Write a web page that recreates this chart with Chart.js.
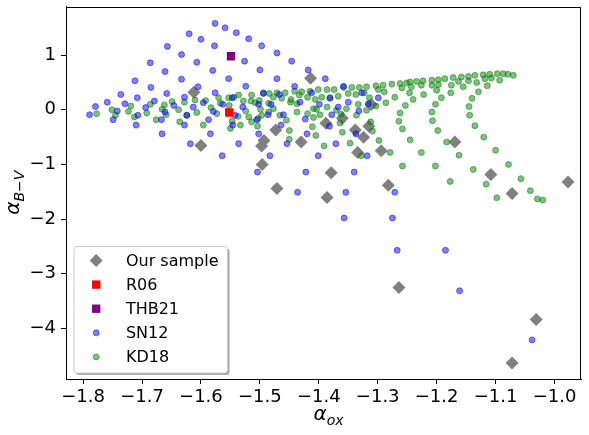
<!DOCTYPE html>
<html>
<head>
<meta charset="utf-8">
<title>alpha_ox vs alpha_B-V</title>
<script src="https://cdn.jsdelivr.net/npm/chart.js"></script>
<style>
  body { margin: 0; background: #fff; }
  #wrap { width: 589px; height: 435px; }
</style>
</head>
<body>
<div id="wrap"><canvas id="chart" width="589" height="435"></canvas></div>
<script>
const xTicks = [-1.8, -1.7, -1.6, -1.5, -1.4, -1.3, -1.2, -1.1, -1.0];
const yTicks = [-4, -3, -2, -1, 0, 1];

// [alpha_ox, alpha_B-V]
const ourSample = [
  [-1.612, 0.32], [-1.600, -0.655], [-1.414, 0.576], [-1.311, 0.095], [-1.360, -0.155],
  [-1.388, -0.245], [-1.338, -0.37], [-1.324, -0.50], [-1.315, -0.30], [-1.294, -0.75],
  [-1.334, -0.78], [-1.379, -1.15], [-1.386, -1.605], [-1.471, -1.44], [-1.496, -1.00],
  [-1.497, -0.66], [-1.493, -0.56], [-1.473, -0.37], [-1.430, -0.59], [-1.282, -1.38],
  [-1.169, -0.59], [-1.108, -1.185], [-1.072, -1.53], [-0.977, -1.32], [-1.264, -3.25],
  [-1.031, -3.836], [-1.072, -4.63]
];
const r06 = [[-1.552, -0.05]];
const thb21 = [[-1.549, 0.98]];
const sn12 = [
  [-1.576, 1.58], [-1.559, 1.50], [-1.540, 1.41], [-1.519, 1.30], [-1.497, 1.17], [-1.471, 1.04],
  [-1.446, 0.89], [-1.418, 0.73], [-1.389, 0.57],
  [-1.620, 1.39], [-1.600, 1.29], [-1.577, 1.17], [-1.526, 0.89], [-1.500, 0.73], [-1.471, 0.57],
  [-1.441, 0.43], [-1.412, 0.31],
  [-1.657, 1.16], [-1.633, 1.01], [-1.607, 0.87], [-1.580, 0.72], [-1.553, 0.57], [-1.524, 0.43], [-1.494, 0.30],
  [-1.686, 0.86], [-1.661, 0.70], [-1.633, 0.56], [-1.605, 0.42], [-1.576, 0.31], [-1.547, 0.22],
  [-1.712, 0.53], [-1.685, 0.41], [-1.658, 0.30], [-1.628, 0.23], [-1.596, 0.13], [-1.563, 0.10],
  [-1.736, 0.28], [-1.708, 0.22], [-1.679, 0.16], [-1.646, 0.08], [-1.613, 0.05],
  [-1.759, 0.14], [-1.729, 0.11], [-1.694, 0.04], [-1.661, -0.04], [-1.624, -0.10], [-1.587, -0.18],
  [-1.779, 0.06], [-1.742, -0.02], [-1.707, -0.10], [-1.667, -0.18], [-1.628, -0.28], [-1.584, -0.44],
  [-1.536, -0.62], [-1.483, -0.84], [-1.422, -1.14], [-1.354, -1.51], [-1.267, -2.57],
  [-1.789, -0.09], [-1.749, -0.18], [-1.710, -0.28], [-1.666, -0.44], [-1.618, -0.62], [-1.564, -0.84],
  [-1.504, -1.14], [-1.436, -1.51], [-1.357, -1.98],
  [-1.579, -0.03], [-1.467, 0.28], [-1.529, 0.05], [-1.502, 0.10], [-1.481, 0.10], [-1.432, 0.14],
  [-1.399, 0.10], [-1.381, 0.22], [-1.350, 0.14], [-1.367, 0.05], [-1.332, -0.02], [-1.316, 0.11],
  [-1.358, 0.43], [-1.327, 0.31], [-1.299, 0.22],
  [-1.486, -0.09], [-1.460, -0.09], [-1.423, -0.17], [-1.378, -0.09], [-1.505, -0.18], [-1.542, -0.10],
  [-1.546, -0.28], [-1.464, -0.28], [-1.382, -0.30],
  [-1.502, -0.44], [-1.454, -0.62], [-1.420, -0.44], [-1.401, -0.84], [-1.371, -0.62], [-1.337, -0.44],
  [-1.318, -0.84], [-1.340, -1.14], [-1.271, -1.51], [-1.275, -1.98], [-1.185, -2.57], [-1.161, -3.31],
  [-1.038, -4.21]
];
const kd18 = [
  // low-alpha_ox cluster
  [-1.777, -0.07], [-1.751, 0.00], [-1.745, -0.10], [-1.719, 0.07], [-1.723, -0.03], [-1.713, -0.13],
  [-1.692, -0.06], [-1.686, 0.10], [-1.676, -0.18], [-1.666, 0.01], [-1.662, 0.09], [-1.659, -0.09],
  [-1.649, 0.15], [-1.638, 0.00], [-1.636, -0.22], [-1.628, 0.14], [-1.624, -0.10], [-1.610, 0.18],
  [-1.607, -0.05], [-1.596, -0.28], [-1.592, 0.17], [-1.583, 0.04], [-1.573, -0.07], [-1.570, 0.22],
  [-1.567, 0.12], [-1.553, 0.22], [-1.552, 0.08], [-1.547, -0.21], [-1.550, -0.34], [-1.537, -0.12],
  [-1.544, 0.23], [-1.536, 0.27], [-1.528, 0.16], [-1.524, -0.02], [-1.514, 0.27], [-1.508, 0.13],
  [-1.499, 0.01], [-1.497, -0.10], [-1.533, -0.28], [-1.514, -0.22], [-1.504, -0.30], [-1.519, -0.13],
  // upper ridge
  [-1.494, 0.31], [-1.484, 0.30], [-1.471, 0.31], [-1.457, 0.31], [-1.441, 0.34], [-1.429, 0.33],
  [-1.415, 0.34], [-1.401, 0.37], [-1.386, 0.37], [-1.374, 0.37], [-1.358, 0.41], [-1.344, 0.41],
  [-1.331, 0.41], [-1.319, 0.42], [-1.303, 0.44], [-1.291, 0.45], [-1.276, 0.47], [-1.262, 0.48],
  [-1.251, 0.49], [-1.245, 0.51], [-1.234, 0.52], [-1.223, 0.53], [-1.208, 0.54], [-1.197, 0.55],
  [-1.186, 0.57], [-1.172, 0.59], [-1.158, 0.60], [-1.146, 0.61], [-1.135, 0.63], [-1.121, 0.64],
  [-1.110, 0.65], [-1.097, 0.66], [-1.087, 0.66], [-1.079, 0.65], [-1.070, 0.63],
  // just below the ridge
  [-1.515, 0.16], [-1.501, 0.17], [-1.477, 0.23], [-1.463, 0.21], [-1.447, 0.19], [-1.433, 0.27],
  [-1.419, 0.23], [-1.406, 0.19], [-1.395, 0.23], [-1.381, 0.21], [-1.367, 0.25], [-1.350, 0.30],
  [-1.337, 0.28], [-1.323, 0.31], [-1.314, 0.22], [-1.299, 0.37], [-1.289, 0.33], [-1.271, 0.23],
  [-1.259, 0.40], [-1.243, 0.42], [-1.226, 0.45], [-1.208, 0.45], [-1.197, 0.46], [-1.175, 0.45],
  [-1.163, 0.52], [-1.146, 0.53], [-1.118, 0.57], [-1.107, 0.58], [-1.093, 0.54], [-1.155, 0.42],
  [-1.114, 0.44], [-1.246, 0.31],
  // tails
  [-1.129, 0.33], [-1.140, 0.21], [-1.145, 0.06], [-1.144, -0.10], [-1.135, -0.29], [-1.120, -0.50],
  [-1.100, -0.74], [-1.078, -1.00], [-1.057, -1.26], [-1.041, -1.48], [-1.029, -1.63], [-1.020, -1.65],
  [-1.132, 0.50], [-1.176, 0.31], [-1.192, 0.22], [-1.202, 0.10], [-1.208, -0.04], [-1.207, -0.20],
  [-1.198, -0.38], [-1.183, -0.59], [-1.162, -0.83], [-1.138, -1.09], [-1.116, -1.36], [-1.098, -1.61],
  [-1.200, 0.36], [-1.222, 0.28], [-1.240, 0.19], [-1.253, 0.08], [-1.262, -0.06], [-1.264, -0.21],
  [-1.258, -0.35], [-1.245, -0.55], [-1.226, -0.78], [-1.202, -1.03], [-1.177, -1.31],
  [-1.286, 0.13], [-1.303, 0.07], [-1.319, -0.01], [-1.312, -0.22], [-1.309, -0.39], [-1.298, -0.56],
  [-1.279, -0.78], [-1.258, -1.03],
  [-1.333, 0.10], [-1.362, -0.08], [-1.370, -0.01], [-1.364, -0.24], [-1.360, -0.41], [-1.347, -0.61],
  [-1.328, -0.84], [-1.386, 0.05],
  [-1.409, -0.14], [-1.411, -0.31], [-1.405, -0.47], [-1.391, -0.66], [-1.404, 0.01], [-1.419, -0.07],
  [-1.437, 0.11],
  [-1.485, 0.12], [-1.477, 0.02], [-1.466, -0.10], [-1.455, -0.19], [-1.450, -0.38], [-1.450, -0.54],
  [-1.503, -0.16], [-1.448, 0.14], [-1.437, -0.04], [-1.409, 0.02], [-1.398, -0.09], [-1.353, 0.02],
  [-1.336, -0.10], [-1.485, -0.04]
];

const FONT = "'DejaVu Sans', sans-serif";
const toXY = arr => arr.map(p => ({x: p[0], y: p[1]}));
const minus = s => s.replace('-', '\u2212');

function drawMarker(ctx, style, x, y, r) {
  ctx.beginPath();
  if (style === 'rectRot') {
    ctx.moveTo(x - r, y); ctx.lineTo(x, y - r); ctx.lineTo(x + r, y); ctx.lineTo(x, y + r);
    ctx.closePath();
  } else if (style === 'rect') {
    const s = Math.SQRT1_2 * r;
    ctx.rect(x - s, y - s, 2 * s, 2 * s);
  } else {
    ctx.arc(x, y, r, 0, Math.PI * 2);
  }
}

function roundRect(ctx, x, y, w, h, r) {
  ctx.beginPath();
  ctx.moveTo(x + r, y);
  ctx.arcTo(x + w, y, x + w, y + h, r);
  ctx.arcTo(x + w, y + h, x, y + h, r);
  ctx.arcTo(x, y + h, x, y, r);
  ctx.arcTo(x, y, x + w, y, r);
  ctx.closePath();
}

// alpha with a subscript, drawn centred on the current origin
function drawMathLabel(ctx, parts) {
  let total = 0;
  parts.forEach(p => {
    ctx.font = (p.italic ? 'italic ' : '') + (p.sub ? 14 : 20) + 'px ' + FONT;
    p.w = ctx.measureText(p.text).width;
    total += p.w;
  });
  let x = -total / 2;
  parts.forEach(p => {
    ctx.font = (p.italic ? 'italic ' : '') + (p.sub ? 14 : 20) + 'px ' + FONT;
    ctx.fillText(p.text, x, p.sub ? 5 : 0);
    x += p.w;
  });
}

// fixed axis boxes so the plot area sits where the reference has it
function fixBox(size) {
  return s => {
    if (s.isHorizontal()) s.height = size; else s.width = size;
    s.paddingLeft = 0; s.paddingRight = 0; s.paddingTop = 0; s.paddingBottom = 0;
  };
}

const framePlugin = {
  id: 'frame',
  afterDraw(chart) {
    const ctx = chart.ctx, ca = chart.chartArea;
    ctx.save();
    ctx.strokeStyle = '#000';
    ctx.lineWidth = 1;
    ctx.strokeRect(Math.round(ca.left) + 0.5, Math.round(ca.top) + 0.5,
      Math.round(ca.right - ca.left) - 1, Math.round(ca.bottom - ca.top) - 1);

    // axis titles
    ctx.fillStyle = '#000';
    ctx.textBaseline = 'alphabetic';
    ctx.textAlign = 'left';
    ctx.save();
    ctx.translate((ca.left + ca.right) / 2 + 5, 420);
    drawMathLabel(ctx, [
      {text: '\u03b1', italic: true},
      {text: 'ox', italic: true, sub: true}
    ]);
    ctx.restore();
    ctx.save();
    ctx.translate(18.5, (ca.top + ca.bottom) / 2);
    ctx.rotate(-Math.PI / 2);
    drawMathLabel(ctx, [
      {text: '\u03b1', italic: true},
      {text: 'B', italic: true, sub: true},
      {text: '\u2212', sub: true},
      {text: 'V', italic: true, sub: true}
    ]);
    ctx.restore();

    // legend inside the axes, lower left
    const w = 153.5, h = 126.5;
    const x0 = ca.left + 7.5, y0 = ca.bottom - 6.5 - h;
    ctx.fillStyle = 'rgba(0,0,0,0.35)';
    roundRect(ctx, x0 + 2.5, y0 + 2.5, w, h, 3);
    ctx.fill();
    ctx.fillStyle = '#fff';
    ctx.strokeStyle = '#cccccc';
    roundRect(ctx, x0 + 0.5, y0 + 0.5, w, h, 3);
    ctx.fill();
    ctx.stroke();
    chart.data.datasets.forEach((ds, i) => {
      const cy = y0 + 14.5 + i * 24.1;
      const cx = x0 + 22.7;
      ctx.fillStyle = ds.backgroundColor;
      ctx.strokeStyle = ds.borderColor;
      ctx.lineWidth = ds.borderWidth;
      drawMarker(ctx, ds.pointStyle, cx, cy, ds.pointRadius);
      ctx.fill();
      if (ds.borderWidth > 0) ctx.stroke();
      ctx.fillStyle = '#000';
      ctx.font = '16px ' + FONT;
      ctx.textBaseline = 'middle';
      ctx.fillText(ds.label, x0 + 52.4, cy + 1);
    });
    ctx.restore();
  }
};

const config = {
  type: 'scatter',
  data: {
    datasets: [
      {
        label: 'Our sample', data: toXY(ourSample), order: 4,
        pointStyle: 'rectRot', pointRadius: 6.5, borderWidth: 0,
        backgroundColor: '#808080', borderColor: '#808080'
      },
      {
        label: 'R06', data: toXY(r06), order: 0,
        pointStyle: 'rect', pointRadius: 5.9, borderWidth: 0,
        backgroundColor: '#ff0000', borderColor: '#ff0000'
      },
      {
        label: 'THB21', data: toXY(thb21), order: 1,
        pointStyle: 'rect', pointRadius: 5.9, borderWidth: 0,
        backgroundColor: '#800080', borderColor: '#800080'
      },
      {
        label: 'SN12', data: toXY(sn12), order: 2,
        pointStyle: 'circle', pointRadius: 3, borderWidth: 1,
        backgroundColor: 'rgba(0,0,255,0.5)', borderColor: 'rgba(0,0,255,0.5)'
      },
      {
        label: 'KD18', data: toXY(kd18), order: 3,
        pointStyle: 'circle', pointRadius: 3, borderWidth: 1,
        backgroundColor: 'rgba(0,128,0,0.5)', borderColor: 'rgba(0,128,0,0.5)'
      }
    ]
  },
  options: {
    responsive: false,
    animation: false,
    devicePixelRatio: 1,
    events: [],
    layout: { padding: { left: 0, right: 8, top: 6, bottom: 0 } },
    plugins: { legend: { display: false }, tooltip: { enabled: false } },
    scales: {
      x: {
        type: 'linear', min: -1.829, max: -0.955,
        afterBuildTicks: s => { s.ticks = xTicks.map(v => ({value: v})); },
        afterFit: fixBox(56),
        ticks: {
          color: '#000', font: { family: FONT, size: 18 }, padding: 3,
          maxRotation: 0, autoSkip: false,
          callback: v => minus(v.toFixed(1))
        },
        grid: { drawOnChartArea: false, drawTicks: true, tickLength: 5, tickColor: '#000', tickWidth: 1 },
        border: { display: true, color: '#000', width: 1 }
      },
      y: {
        type: 'linear', min: -4.925, max: 1.89,
        afterBuildTicks: s => { s.ticks = yTicks.map(v => ({value: v})); },
        afterFit: fixBox(66),
        ticks: {
          color: '#000', font: { family: FONT, size: 18 }, padding: 5,
          autoSkip: false,
          callback: v => minus(String(v))
        },
        grid: { drawOnChartArea: false, drawTicks: true, tickLength: 5, tickColor: '#000', tickWidth: 1 },
        border: { display: true, color: '#000', width: 1 }
      }
    }
  },
  plugins: [framePlugin]
};

new Chart(document.getElementById('chart'), config);
</script>
</body>
</html>
